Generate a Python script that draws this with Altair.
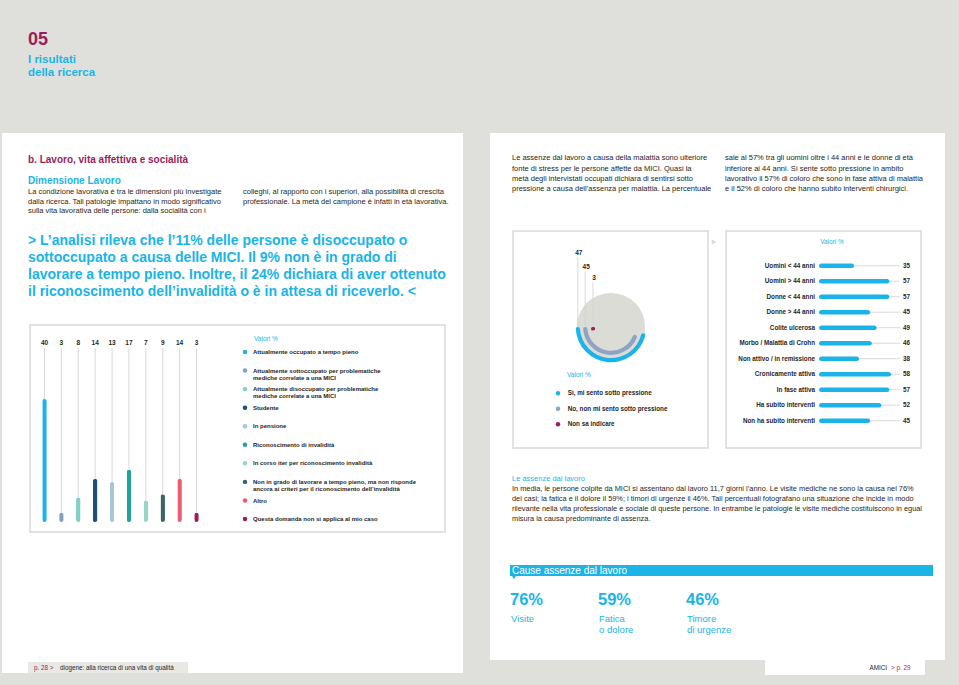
import math
import altair as alt
import pandas as pd

# ------------------------------------------------------------------ data
status_labels = [
    "Attualmente occupato a tempo pieno",
    "Attualmente sottoccupato per problematiche|mediche correlate a una MICI",
    "Attualmente disoccupato per problematiche|mediche correlate a una MICI",
    "Studente",
    "In pensione",
    "Riconoscimento di invalidità",
    "In corso iter per riconoscimento invalidità",
    "Non in grado di lavorare a tempo pieno, ma non risponde|ancora ai criteri per il riconoscimento dell’invalidità",
    "Altro",
    "Questa domanda non si applica al mio caso",
]
status_values = [40, 3, 8, 14, 13, 17, 7, 9, 14, 3]

pressure_labels = ["Sì, mi sento sotto pressione", "No, non mi sento sotto pressione", "Non sa indicare"]
pressure_values = [47, 45, 3]

group_labels = [
    "Uomini < 44 anni", "Uomini > 44 anni", "Donne < 44 anni", "Donne > 44 anni",
    "Colite ulcerosa", "Morbo / Malattia di Crohn", "Non attivo / in remissione",
    "Cronicamente attiva", "In fase attiva", "Ha subito interventi", "Non ha subito interventi",
]
group_values = [35, 57, 57, 45, 49, 46, 38, 58, 57, 52, 45]

cause_labels = ["Visite", "Fatica|o dolore", "Timore|di urgenze"]
cause_values = [76, 59, 46]

# ------------------------------------------------------------------ style
FONT = "Liberation Sans"
CYAN = "#1bb4e6"
WINE = "#9b1d5a"
DARK = "#262626"
GRID = "#cfcfcf"
BOX = "#d9dad5"
BG = "#dfe0db"
status_colors = ["#1cb4e8", "#86a0c4", "#7fd0c6", "#1f4f73", "#a9c5d9",
                 "#1fa39b", "#93d7c7", "#3e6468", "#ef5b6e", "#9b1d5a"]
pressure_colors = ["#1cb4e8", "#8fa3c3", "#9b1d5a"]

status_df = pd.DataFrame({"label": status_labels, "value": status_values})
pressure_df = pd.DataFrame({"label": pressure_labels, "value": pressure_values})
group_df = pd.DataFrame({"label": group_labels, "value": group_values})
cause_df = pd.DataFrame({"label": cause_labels, "value": cause_values})


def rect(x1, y1, x2, y2, fill, stroke=None, sw=1.0):
    kw = dict(fill=fill)
    if stroke:
        kw.update(stroke=stroke, strokeWidth=sw)
    return alt.Chart().mark_rect(**kw).encode(
        x=alt.value(x1), x2=alt.value(x2), y=alt.value(y1), y2=alt.value(y2))


def label(text, x, y, size, color=DARK, weight="normal", align="left", lh=None):
    """y is the centre of the first line."""
    kw = dict(text=text, fontSize=size, color=color, fontWeight=weight,
              align=align, baseline="middle", font=FONT)
    if lh:
        kw["lineHeight"] = lh
    return alt.Chart().mark_text(**kw).encode(x=alt.value(x), y=alt.value(y))


layers = []

# ------------------------------------------------------------------ page
layers += [
    rect(2, 133, 463, 673, "white"),
    rect(490, 133, 945, 660, "white"),
    rect(765, 660, 925, 675, "white"),
    rect(28, 662, 188, 673, "#e8e8e5"),
    rect(30, 325, 445, 532, "white", BOX, 1.5),
    rect(513, 231, 708, 448, "white", BOX, 1.5),
    rect(726, 231, 921, 448, "white", BOX, 1.5),
    alt.Chart().mark_point(shape="triangle-right", filled=True, size=30, color=BOX, opacity=1)
       .encode(x=alt.value(714), y=alt.value(242)),
    rect(510, 565, 933, 576, CYAN),
    alt.Chart().mark_point(shape="triangle-down", filled=True, size=18, color=CYAN, opacity=1)
       .encode(x=alt.value(514), y=alt.value(577.5)),
]

# ------------------------------------------------------------------ texts
layers += [
    label("05", 28, 40, 18, WINE, "bold"),
    label(["I risultati", "della ricerca"], 28, 60, 11.5, CYAN, "bold", lh=13.2),
    label("b. Lavoro, vita affettiva e socialità", 28, 160, 10, WINE, "bold"),
    label("Dimensione Lavoro", 28, 180.7, 10, CYAN, "bold"),
    label(["La condizione lavorativa è tra le dimensioni più investigate",
           "dalla ricerca. Tali patologie impattano in modo significativo",
           "sulla vita lavorativa delle persone: dalla socialità con i"],
          28, 192.3, 7.5, lh=9.4),
    label(["colleghi, al rapporto con i superiori, alla possibilità di crescita",
           "professionale. La metà del campione è infatti in età lavorativa."],
          243, 192.3, 7.5, lh=9.4),
    label(["> L’analisi rileva che l’11% delle persone è disoccupato o",
           "sottoccupato a causa delle MICI. Il 9% non è in grado di",
           "lavorare a tempo pieno. Inoltre, il 24% dichiara di aver ottenuto",
           "il riconoscimento dell’invalidità o è in attesa di riceverlo. <"],
          28, 241, 14, CYAN, "bold", lh=17),
    label("Valori %", 254, 339, 6.5, CYAN),
    label(["Le assenze dal lavoro a causa della malattia sono ulteriore",
           "fonte di stress per le persone affette da MICI. Quasi la",
           "metà degli intervistati occupati dichiara di sentirsi sotto",
           "pressione a causa dell’assenza per malattia.  La percentuale"],
          512, 158.3, 7.5, lh=10.3),
    label(["sale al 57% tra gli uomini oltre i 44 anni e le donne di età",
           "inferiore ai 44 anni. Si sente sotto pressione in ambito",
           "lavorativo il 57% di coloro che sono in fase attiva di malattia",
           "e il 52% di coloro che hanno subito interventi chirurgici."],
          725, 158.3, 7.5, lh=10.3),
    label("Valori %", 567, 375, 6.5, CYAN),
    label("Valori %", 832, 241.7, 6.5, CYAN, align="center"),
    label("Le assenze dal lavoro", 512, 479, 7.5, CYAN),
    label(["In media, le persone colpite da MICI si assentano dal lavoro 11,7 giorni l’anno. Le visite mediche ne sono la causa nel 76%",
           "dei casi; la fatica e il dolore il 59%; i timori di urgenze il 46%. Tali percentuali fotografano una situazione che incide in modo",
           "rilevante nella vita professionale e sociale di queste persone. In entrambe le patologie le visite mediche costituiscono in egual",
           "misura la causa predominante di assenza."],
          512, 489, 7.4, lh=9.9),
    label("Cause assenze dal lavoro", 512, 570.5, 10, "white"),
    label("p. 28  >", 34, 668, 6.3, WINE),
    label("diogene: alla ricerca di una vita di qualità", 60, 668, 6.3),
    label("AMICI", 887, 668, 6.3, align="right"),
    label(">  p. 29", 891, 668, 6.3, WINE),
]

# ------------------------------------------------------------------ left chart: work status
X_ST = alt.X("label:N", sort=status_labels, axis=None,
             scale=alt.Scale(type="point", domain=status_labels, range=[44.5, 196.5], padding=0))
Y_ST = alt.Y("value:Q", axis=None, scale=alt.Scale(domain=[0, 40], range=[522, 399]))
C_ST = alt.Color("label:N", legend=None, scale=alt.Scale(domain=status_labels, range=status_colors))
st = alt.Chart(status_df)
status_chart = alt.layer(
    st.mark_rule(color=GRID, strokeWidth=0.8).encode(x=X_ST, y=alt.value(348), y2=alt.value(521)),
    st.mark_bar(width=4.5, cornerRadius=2.2, opacity=1).encode(x=X_ST, y=Y_ST, color=C_ST),
    st.mark_text(fontSize=6.5, fontWeight="bold", color=DARK, font=FONT)
      .encode(x=X_ST, y=alt.value(343), text="value:Q"),
)
Y_LEG = alt.Y("label:N", sort=status_labels, axis=None,
              scale=alt.Scale(type="point", domain=status_labels, range=[352, 519], padding=0))
status_legend = alt.layer(
    st.mark_circle(size=20, opacity=1).encode(x=alt.value(245), y=Y_LEG, color=C_ST),
    st.transform_calculate(lines="split(datum.label, '|')")
      .mark_text(align="left", baseline="alphabetic", dy=2.1, fontSize=6.0, fontWeight="bold",
                 lineHeight=7, color=DARK, font=FONT)
      .encode(x=alt.value(253), y=Y_LEG, text="lines:N"),
)
layers += [status_chart, status_legend]

# ------------------------------------------------------------------ donut: pressure
CX, CY = 611, 327
RADII = [33.2, 25.8, 18]
donut = [alt.Chart().mark_circle(size=math.pi * 38.5 ** 2, color="#dcdcd7", opacity=1)
         .encode(x=alt.value(CX), y=alt.value(CY))]
for i, lab in enumerate(pressure_labels):
    r = RADII[i]
    sub = alt.Chart(pressure_df).transform_filter(alt.datum.label == lab)
    donut.append(
        sub.mark_arc(radius=r + 2.1, radius2=r - 2.1, cornerRadius=2, color=pressure_colors[i])
        .encode(theta=alt.Theta("value:Q", stack=False,
                                scale=alt.Scale(domain=[0, 50], range=[1.5 * math.pi, 0.5 * math.pi])),
                theta2=alt.value(1.5 * math.pi), x=alt.value(CX), y=alt.value(CY)))
LBL_Y = [253.3, 267.3, 278.3]
for i, lab in enumerate(pressure_labels):
    sub = alt.Chart(pressure_df).transform_filter(alt.datum.label == lab)
    donut.append(sub.mark_rule(color=GRID, strokeWidth=0.8)
                 .encode(x=alt.value(CX - RADII[i]), y=alt.value(LBL_Y[i] + 4), y2=alt.value(CY - 2)))
    donut.append(sub.mark_text(fontSize=6.5, fontWeight="bold", color=DARK, font=FONT)
                 .encode(x=alt.value(CX - RADII[i] + 1), y=alt.value(LBL_Y[i]), text="value:Q"))
layers += donut

Y_PL = alt.Y("label:N", sort=pressure_labels, axis=None,
             scale=alt.Scale(type="point", domain=pressure_labels, range=[393.3, 424.3], padding=0))
C_PL = alt.Color("label:N", legend=None, scale=alt.Scale(domain=pressure_labels, range=pressure_colors))
pl = alt.Chart(pressure_df)
layers.append(alt.layer(
    pl.mark_circle(size=20, opacity=1).encode(x=alt.value(558), y=Y_PL, color=C_PL),
    pl.mark_text(align="left", fontSize=6.3, fontWeight="bold", color=DARK, font=FONT)
      .encode(x=alt.value(567.7), y=Y_PL, text="label:N"),
))

# ------------------------------------------------------------------ right bars: groups
Y_GR = alt.Y("label:N", sort=group_labels, axis=None,
             scale=alt.Scale(type="point", domain=group_labels, range=[265.7, 420.7], padding=0))
X_GR = alt.X("value:Q", axis=None, scale=alt.Scale(domain=[13, 60], range=[819, 894.2]))
gr = alt.Chart(group_df)
layers.append(alt.layer(
    gr.mark_rule(color=GRID, strokeWidth=0.8).encode(y=Y_GR, x=alt.value(819), x2=alt.value(900)),
    gr.mark_bar(height=4.6, cornerRadius=2.3, color=CYAN, opacity=1).encode(y=Y_GR, x=X_GR, x2=alt.datum(13)),
    gr.mark_text(align="right", fontSize=6.3, fontWeight="bold", color=DARK, font=FONT)
      .encode(y=Y_GR, x=alt.value(815), text="label:N"),
    gr.mark_text(align="left", fontSize=6.3, fontWeight="bold", color=DARK, font=FONT)
      .encode(y=Y_GR, x=alt.value(903), text="value:Q"),
))

# ------------------------------------------------------------------ causes
X_C = alt.X("label:N", sort=cause_labels, axis=None,
            scale=alt.Scale(type="point", domain=cause_labels, range=[510, 686], padding=0))
cs = alt.Chart(cause_df)
layers.append(alt.layer(
    cs.transform_calculate(pct="datum.value + '%'")
      .mark_text(align="left", fontSize=16.5, fontWeight="bold", color=CYAN, font=FONT)
      .encode(x=X_C, y=alt.value(600), text="pct:N"),
    cs.transform_calculate(lines="split(datum.label, '|')")
      .mark_text(align="left", baseline="alphabetic", fontSize=9.5, lineHeight=11.7,
                 color=CYAN, font=FONT, dx=1)
      .encode(x=X_C, y=alt.value(621.6), text="lines:N"),
))

chart = (
    alt.layer(*layers, data=pd.DataFrame({"k": [0]}))
    .resolve_scale(x="independent", y="independent", color="independent", theta="independent")
    .properties(width=959, height=685, autosize="none", padding=0, background=BG)
    .configure_view(stroke=None)
)

chart.save("out.html", embed_options={"renderer": "svg", "actions": False})
